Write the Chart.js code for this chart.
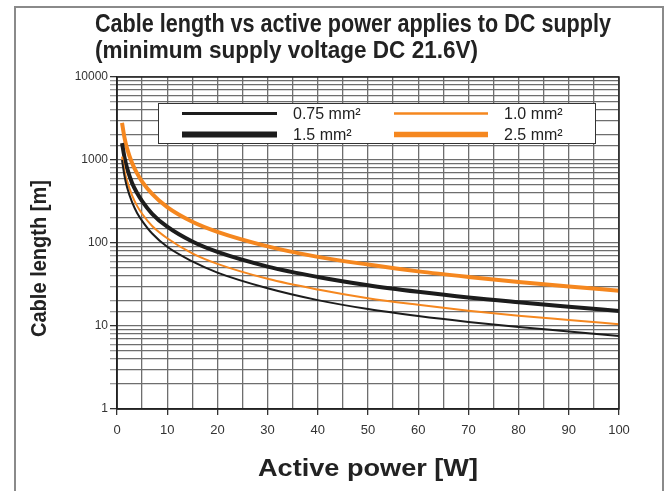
<!DOCTYPE html>
<html>
<head>
<meta charset="utf-8">
<script src="https://cdn.jsdelivr.net/npm/chart.js@4.4.0/dist/chart.umd.min.js"></script>
<style>
  body { margin: 0; background: #fff; }
  #wrap { width: 667px; height: 491px; }
</style>
</head>
<body>
<div id="wrap"><canvas id="cableChart" width="667" height="491"></canvas></div>
<script>
// Active power [W] (x positions of the read points)
var power = [1, 1.5, 2, 3, 4, 5, 7, 10, 15, 20, 30, 40, 50, 60, 70, 80, 90, 100];

// Cable length [m]
var len075 = [1000, 640, 470, 310, 230, 185, 130, 90, 60, 44, 28.5, 20.5, 16, 13.2, 11.2, 9.7, 8.6, 7.6];
var len10  = [1100, 740, 560, 375, 280, 225, 160, 114, 75, 56, 37, 27.5, 21.6, 18, 15.3, 13.3, 11.8, 10.5];
var len15  = [1600, 1070, 800, 530, 400, 320, 225, 157, 104, 78, 52, 39, 31, 25.8, 22, 19.3, 17.1, 15.2];
var len25  = [2800, 1850, 1380, 920, 690, 550, 390, 270, 180, 136, 91, 68, 55, 45.5, 39, 34, 30, 26.6];

var seriesLabels = ["0.75 mm²", "1.0 mm²", "1.5 mm²", "2.5 mm²"];
var yTickLabels = [1, 10, 100, 1000, 10000];
var xTickLabels = [0, 10, 20, 30, 40, 50, 60, 70, 80, 90, 100];

var black = "#1c1c1c";
var orange = "#f5871f";
var gridColor = "#6e6e6e";

function pts(ys) {
  return power.map(function (p, i) { return { x: p, y: ys[i] }; });
}

function fitText(ctx, text, x, y, width) {
  var w = ctx.measureText(text).width;
  ctx.save();
  ctx.translate(x, y);
  ctx.scale(width / w, 1);
  ctx.fillText(text, 0, 0);
  ctx.restore();
}

// frame, titles, axis titles and the boxed legend
var decor = {
  id: "decor",
  afterDraw: function (chart) {
    var ctx = chart.ctx;
    var a = chart.chartArea;
    ctx.save();

    // outer frame
    ctx.strokeStyle = "#8a8a8a";
    ctx.lineWidth = 2;
    ctx.strokeRect(15, 7, 648, 500);

    // plot border
    ctx.strokeStyle = "#222";
    ctx.lineWidth = 1.5;
    ctx.strokeRect(a.left, a.top, a.right - a.left, a.bottom - a.top);

    ctx.fillStyle = "#222";
    ctx.textAlign = "left";
    ctx.textBaseline = "alphabetic";
    ctx.font = "bold 25px 'Liberation Sans', Arial, sans-serif";
    fitText(ctx, "Cable length vs active power applies to DC supply", 95, 32, 516);
    ctx.font = "bold 23px 'Liberation Sans', Arial, sans-serif";
    fitText(ctx, "(minimum supply voltage DC 21.6V)", 95, 58, 383);

    // axis titles
    ctx.font = "bold 24px 'Liberation Sans', Arial, sans-serif";
    fitText(ctx, "Active power [W]", 258, 476, 220);
    ctx.font = "bold 22px 'Liberation Sans', Arial, sans-serif";
    ctx.save();
    ctx.translate(46, 337);
    ctx.rotate(-Math.PI / 2);
    fitText(ctx, "Cable length [m]", 0, 0, 157);
    ctx.restore();

    // legend box
    ctx.fillStyle = "#fff";
    ctx.fillRect(158, 103, 438, 41);
    ctx.strokeStyle = "#333";
    ctx.lineWidth = 1;
    ctx.strokeRect(158.5, 103.5, 437, 40);

    var cols = [[182, 277, 293], [394, 488, 504]];
    var rows = [113.5, 134.5];
    ctx.font = "16px 'Liberation Sans', Arial, sans-serif";
    ctx.textBaseline = "middle";
    chart.data.datasets.forEach(function (ds, k) {
      var c = cols[k % 2], r = rows[Math.floor(k / 2)];
      ctx.strokeStyle = ds.borderColor;
      ctx.lineWidth = ds.legendWidth;
      ctx.beginPath();
      ctx.moveTo(c[0], r);
      ctx.lineTo(c[1], r);
      ctx.stroke();
      ctx.fillStyle = "#222";
      ctx.fillText(ds.label, c[2], r + 1);
    });
    ctx.restore();
  }
};

var datasets = [
  { label: seriesLabels[0], data: pts(len075), borderColor: black, borderWidth: 2, legendWidth: 3 },
  { label: seriesLabels[1], data: pts(len10), borderColor: orange, borderWidth: 2, legendWidth: 2.5 },
  { label: seriesLabels[2], data: pts(len15), borderColor: black, borderWidth: 4, legendWidth: 6 },
  { label: seriesLabels[3], data: pts(len25), borderColor: orange, borderWidth: 4, legendWidth: 5.5 }
];
datasets.forEach(function (d) {
  d.pointRadius = 0;
  d.fill = false;
  d.cubicInterpolationMode = "monotone";
});

var ctx = document.getElementById("cableChart").getContext("2d");
var cableChart = new Chart(ctx, {
  type: "line",
  data: { datasets: datasets },
  options: {
    responsive: false,
    animation: false,
    layout: { padding: { left: 0, top: 77, right: 48, bottom: 0 } },
    plugins: { legend: { display: false }, tooltip: { enabled: false }, title: { display: false } },
    scales: {
      x: {
        type: "linear",
        min: 0,
        max: 100,
        afterFit: function (s) { s.height = 82; },
        border: { display: true, color: "#222", width: 1.5 },
        grid: {
          color: gridColor,
          lineWidth: 1.3,
          tickLength: 6,
          tickColor: function (c) { return c.tick && c.tick.value % 10 === 0 ? "#333" : "rgba(0,0,0,0)"; }
        },
        ticks: {
          stepSize: 5,
          autoSkip: false,
          maxRotation: 0,
          padding: 8,
          color: "#333",
          font: { family: "'Liberation Sans', Arial", size: 13 },
          callback: function (v) { return xTickLabels.indexOf(v) >= 0 ? String(v) : ""; }
        }
      },
      y: {
        type: "logarithmic",
        min: 1,
        max: 10000,
        afterFit: function (s) { s.width = 117; },
        border: { display: true, color: "#222", width: 1.5 },
        grid: {
          color: gridColor,
          lineWidth: 1.3,
          tickLength: 7,
          tickColor: function (c) { return c.tick && yTickLabels.indexOf(c.tick.value) >= 0 ? "#333" : "#999"; }
        },
        ticks: {
          autoSkip: false,
          padding: 2,
          color: "#333",
          font: { family: "'Liberation Sans', Arial", size: 12 },
          callback: function (v) { return yTickLabels.indexOf(v) >= 0 ? String(v) : ""; }
        }
      }
    }
  },
  plugins: [decor]
});
</script>
</body>
</html>
